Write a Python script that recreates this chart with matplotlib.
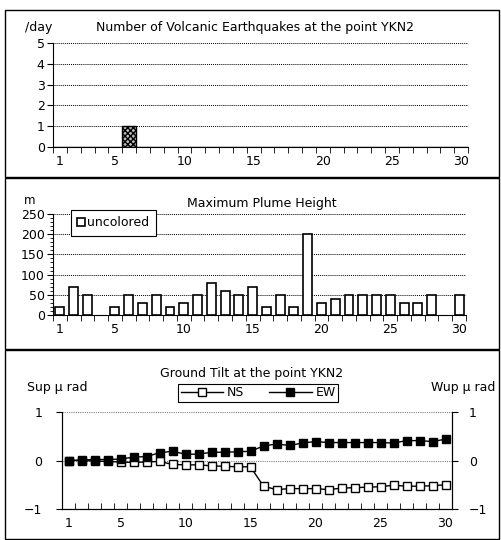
import matplotlib.pyplot as plt
from matplotlib.patches import Rectangle
from matplotlib.ticker import FixedLocator, MultipleLocator

plt.rcParams['font.family'] = ['DejaVu Sans']
plt.rcParams['hatch.linewidth'] = 1.0

days = list(range(1, 31))
day_labels = ['1', '5', '10', '15', '20', '25', '30']
day_label_pos = [1, 5, 10, 15, 20, 25, 30]

# volcanic earthquakes per day
quakes = [0, 0, 0, 0, 0, 1, 0, 0, 0, 0, 0, 0, 0, 0, 0,
          0, 0, 0, 0, 0, 0, 0, 0, 0, 0, 0, 0, 0, 0, 0]

# max plume height (m), None = no observation
plume = [20, 70, 50, None, 20, 50, 30, 50, 20, 30, 50, 80, 60, 50, 70,
         20, 50, 20, 200, 30, 40, 50, 50, 50, 50, 30, 30, 50, None, 50]

# ground tilt (micro rad)
tilt_ns = [0.0, 0.0, -0.01, -0.02, -0.03, -0.04, -0.03, -0.02, -0.08, -0.09,
           -0.09, -0.11, -0.12, -0.13, -0.13, -0.53, -0.6, -0.58, -0.58, -0.58,
           -0.6, -0.57, -0.56, -0.55, -0.54, -0.51, -0.53, -0.53, -0.52, -0.5]
tilt_ew = [0.0, 0.01, 0.02, 0.02, 0.03, 0.07, 0.08, 0.16, 0.19, 0.13,
           0.13, 0.17, 0.17, 0.18, 0.19, 0.3, 0.34, 0.31, 0.36, 0.39,
           0.37, 0.37, 0.37, 0.37, 0.37, 0.36, 0.41, 0.41, 0.39, 0.44]

W, H = 501, 540
fig = plt.figure(figsize=(W / 100, H / 100), dpi=100)


def fx(px):
    return px / W


def fy(py):
    return 1 - py / H


# panel frames
for top, bot in [(10, 177), (178, 349), (350, 539)]:
    fig.patches.append(Rectangle((fx(5), fy(bot)), fx(494), (bot - top) / H,
                                 transform=fig.transFigure, fill=False,
                                 edgecolor='black', linewidth=1.0))


def style_days(ax, tick_dir='out'):
    ax.set_xlim(0.5, 30.5)
    ax.xaxis.set_major_locator(FixedLocator(day_label_pos))
    ax.set_xticklabels(day_labels)
    ax.xaxis.set_minor_locator(FixedLocator([d + 0.5 for d in range(0, 31)]))
    ax.tick_params(axis='x', which='major', length=0, pad=6, labelsize=9)
    ax.tick_params(axis='x', which='minor', length=4, direction=tick_dir)
    ax.tick_params(axis='y', labelsize=9, length=4, pad=2)
    for s in ['top', 'right']:
        ax.spines[s].set_visible(False)


# ---- top: volcanic earthquakes
ax1 = fig.add_axes([fx(53), fy(147), fx(468 - 53), (147 - 43) / H])
ax1.bar(days, quakes, width=1.0, facecolor='#bbbbbb', edgecolor='black',
        hatch='xxxxxx', linewidth=1.0, zorder=3)
ax1.set_ylim(0, 5)
ax1.set_yticks([0, 1, 2, 3, 4, 5])
ax1.grid(axis='y', linestyle=(0, (1, 1)), color='black', linewidth=0.7)
style_days(ax1)
fig.text(fx(255), fy(27), 'Number of Volcanic Earthquakes at the point YKN2',
         ha='center', va='center', fontsize=9)
fig.text(fx(25), fy(27), '/day', ha='left', va='center', fontsize=9)

# ---- middle: plume height
ax2 = fig.add_axes([fx(53), fy(315), fx(466 - 53), (315 - 214) / H])
px = [d for d, v in zip(days, plume) if v is not None]
pv = [v for v in plume if v is not None]
ax2.bar(px, pv, width=0.65, facecolor='white', edgecolor='black',
        linewidth=1.2, zorder=3, label='uncolored')
ax2.set_ylim(0, 250)
ax2.set_yticks([0, 50, 100, 150, 200, 250])
ax2.yaxis.set_minor_locator(MultipleLocator(10))
ax2.tick_params(axis='y', which='minor', length=2)
ax2.grid(axis='y', linestyle=(0, (1, 1)), color='black', linewidth=0.7)
style_days(ax2)
fig.text(fx(262), fy(203), 'Maximum Plume Height', ha='center', va='center',
         fontsize=9)
fig.text(fx(30), fy(201), 'm', ha='center', va='center', fontsize=8.5)
leg2 = ax2.legend(loc='upper left', bbox_to_anchor=(fx(71), fy(210)),
                  bbox_transform=fig.transFigure, frameon=True, fancybox=False,
                  framealpha=1, edgecolor='black', fontsize=9,
                  handlelength=0.6, handleheight=0.6, handletextpad=0.2,
                  borderpad=0.5, borderaxespad=0)
leg2.get_frame().set_linewidth(0.8)

# ---- bottom: ground tilt
ax3 = fig.add_axes([fx(62), fy(509), fx(452 - 62), (509 - 412) / H])
ax3.plot(days, tilt_ns, color='black', linewidth=1.0, marker='s',
         markersize=5.8, markerfacecolor='white', markeredgecolor='black',
         label='NS', zorder=3)
ax3.plot(days, tilt_ew, color='black', linewidth=1.0, marker='s',
         markersize=5.8, markerfacecolor='black', markeredgecolor='black',
         label='EW', zorder=4)
ax3.set_ylim(-1, 1)
ax3.set_yticks([-1, 0, 1])
ax3.set_yticklabels(['\u22121', '0', '1'])
ax3.grid(axis='y', linestyle=(0, (1, 1)), color='gray', linewidth=0.8)
style_days(ax3, tick_dir='in')
ax3.tick_params(axis='y', pad=10)
ax3.spines['right'].set_visible(True)
ax3r = ax3.twinx()
ax3r.set_ylim(-1, 1)
ax3r.set_yticks([-1, 0, 1])
ax3r.set_yticklabels(['\u22121', '0', '1'])
ax3r.tick_params(axis='y', labelsize=9, length=4, pad=8)
ax3r.spines['top'].set_visible(False)
fig.text(fx(252), fy(373), 'Ground Tilt at the point YKN2', ha='center',
         va='center', fontsize=9)
fig.text(fx(27), fy(388), 'Sup \u03bc rad', ha='left', va='center', fontsize=9)
fig.text(fx(495), fy(388), 'Wup \u03bc rad', ha='right', va='center',
         fontsize=9)
leg3 = ax3.legend(loc='upper left', bbox_to_anchor=(fx(178), fy(384)),
                  bbox_transform=fig.transFigure, ncol=2, frameon=True,
                  fancybox=False, framealpha=1, edgecolor='black', fontsize=9,
                  handlelength=3.4, handletextpad=0.3, columnspacing=2.0,
                  borderpad=0.2, borderaxespad=0, markerscale=1.0)
leg3.get_frame().set_linewidth(0.8)

fig.savefig('out.png', dpi=100)
